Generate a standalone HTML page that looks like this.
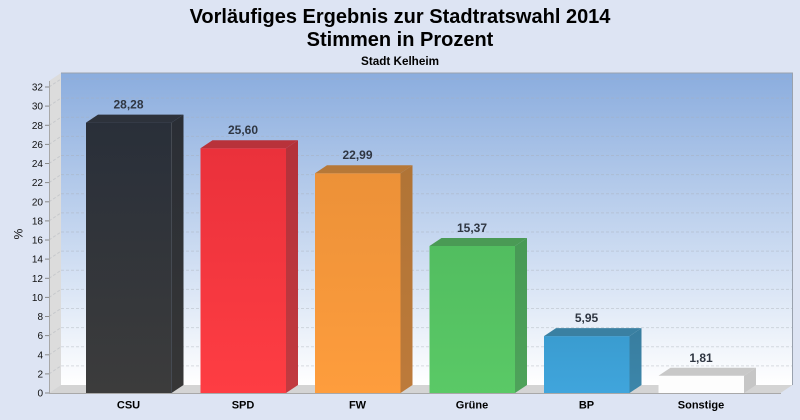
<!DOCTYPE html>
<html><head><meta charset="utf-8"><style>
html,body{margin:0;padding:0;background:#dde4f3;}
svg{display:block;font-family:"Liberation Sans",Arial,sans-serif;}
</style></head><body>
<svg width="800" height="420" viewBox="0 0 800 420" xmlns="http://www.w3.org/2000/svg">
<defs>
<linearGradient id="wall" x1="0" y1="73" x2="0" y2="385" gradientUnits="userSpaceOnUse">
<stop offset="0" stop-color="#8badde"/><stop offset="0.5" stop-color="#c3d5ef"/><stop offset="1" stop-color="#ffffff"/></linearGradient>
<linearGradient id="gCSU" x1="0" y1="0" x2="0" y2="1"><stop offset="0" stop-color="#292f39"/><stop offset="1" stop-color="#3c3c3c"/></linearGradient>
<linearGradient id="sCSU" x1="0" y1="0" x2="0" y2="1"><stop offset="0" stop-color="#2a2e35"/><stop offset="1" stop-color="#363636"/></linearGradient>
<linearGradient id="gSPD" x1="0" y1="0" x2="0" y2="1"><stop offset="0" stop-color="#ea313b"/><stop offset="1" stop-color="#fe3d43"/></linearGradient>
<linearGradient id="sSPD" x1="0" y1="0" x2="0" y2="1"><stop offset="0" stop-color="#b3313a"/><stop offset="1" stop-color="#c23a40"/></linearGradient>
<linearGradient id="gFW" x1="0" y1="0" x2="0" y2="1"><stop offset="0" stop-color="#ec9138"/><stop offset="1" stop-color="#fe9d3d"/></linearGradient>
<linearGradient id="sFW" x1="0" y1="0" x2="0" y2="1"><stop offset="0" stop-color="#b07436"/><stop offset="1" stop-color="#bd7a3a"/></linearGradient>
<linearGradient id="gGR" x1="0" y1="0" x2="0" y2="1"><stop offset="0" stop-color="#52bd60"/><stop offset="1" stop-color="#5ac966"/></linearGradient>
<linearGradient id="sGR" x1="0" y1="0" x2="0" y2="1"><stop offset="0" stop-color="#479955"/><stop offset="1" stop-color="#4ea35a"/></linearGradient>
<linearGradient id="gBP" x1="0" y1="0" x2="0" y2="1"><stop offset="0" stop-color="#3a9cd0"/><stop offset="1" stop-color="#40a5dc"/></linearGradient>
<linearGradient id="sBP" x1="0" y1="0" x2="0" y2="1"><stop offset="0" stop-color="#387d9f"/><stop offset="1" stop-color="#3c86aa"/></linearGradient>
</defs>

<!-- titles -->
<text x="400" y="23" text-anchor="middle" font-size="20" font-weight="bold" fill="#000">Vorläufiges Ergebnis zur Stadtratswahl 2014</text>
<text x="400" y="46" text-anchor="middle" font-size="20" font-weight="bold" fill="#000">Stimmen in Prozent</text>
<text x="400" y="65" text-anchor="middle" font-size="11.7" font-weight="bold" fill="#000">Stadt Kelheim</text>

<!-- back wall -->
<rect x="61" y="73" width="731.5" height="312" fill="url(#wall)"/>
<polyline points="61,73 792.5,73 792.5,385" fill="none" stroke="#9aa2ae" stroke-width="1"/>
<!-- side wall -->
<polygon points="49,81 61,73 61,385 49,393" fill="#dcdcdc"/>
<!-- grid -->
<g stroke="#a8adb5" stroke-width="1" stroke-dasharray="3,2" fill="none" opacity="0.4">
<line x1="61" y1="365.9" x2="792" y2="365.9"/>
<line x1="61" y1="346.8" x2="792" y2="346.8"/>
<line x1="61" y1="327.6" x2="792" y2="327.6"/>
<line x1="61" y1="308.5" x2="792" y2="308.5"/>
<line x1="61" y1="289.4" x2="792" y2="289.4"/>
<line x1="61" y1="270.3" x2="792" y2="270.3"/>
<line x1="61" y1="251.1" x2="792" y2="251.1"/>
<line x1="61" y1="232" x2="792" y2="232"/>
<line x1="61" y1="212.9" x2="792" y2="212.9"/>
<line x1="61" y1="193.8" x2="792" y2="193.8"/>
<line x1="61" y1="174.6" x2="792" y2="174.6"/>
<line x1="61" y1="155.5" x2="792" y2="155.5"/>
<line x1="61" y1="136.4" x2="792" y2="136.4"/>
<line x1="61" y1="117.3" x2="792" y2="117.3"/>
<line x1="61" y1="98.1" x2="792" y2="98.1"/>
<line x1="61" y1="79" x2="792" y2="79"/>
<line x1="49" y1="373.9" x2="61" y2="365.9"/>
<line x1="49" y1="354.8" x2="61" y2="346.8"/>
<line x1="49" y1="335.6" x2="61" y2="327.6"/>
<line x1="49" y1="316.5" x2="61" y2="308.5"/>
<line x1="49" y1="297.4" x2="61" y2="289.4"/>
<line x1="49" y1="278.3" x2="61" y2="270.3"/>
<line x1="49" y1="259.1" x2="61" y2="251.1"/>
<line x1="49" y1="240" x2="61" y2="232"/>
<line x1="49" y1="220.9" x2="61" y2="212.9"/>
<line x1="49" y1="201.8" x2="61" y2="193.8"/>
<line x1="49" y1="182.6" x2="61" y2="174.6"/>
<line x1="49" y1="163.5" x2="61" y2="155.5"/>
<line x1="49" y1="144.4" x2="61" y2="136.4"/>
<line x1="49" y1="125.3" x2="61" y2="117.3"/>
<line x1="49" y1="106.1" x2="61" y2="98.1"/>
<line x1="49" y1="87" x2="61" y2="79"/>
</g>
<!-- floor -->
<polygon points="49,393 61,385 792.5,385 780.5,393" fill="#d4d4d4"/>
<line x1="49" y1="393.5" x2="781" y2="393.5" stroke="#a8a8a8" stroke-width="1"/>
<line x1="49.5" y1="81" x2="49.5" y2="393" stroke="#a8a8a8" stroke-width="1"/>

<!-- y ticks & labels -->
<g stroke="#888" stroke-width="1">
<line x1="45" y1="393" x2="49" y2="393"/><line x1="45" y1="373.9" x2="49" y2="373.9"/><line x1="45" y1="354.8" x2="49" y2="354.8"/><line x1="45" y1="335.6" x2="49" y2="335.6"/><line x1="45" y1="316.5" x2="49" y2="316.5"/><line x1="45" y1="297.4" x2="49" y2="297.4"/><line x1="45" y1="278.3" x2="49" y2="278.3"/><line x1="45" y1="259.1" x2="49" y2="259.1"/><line x1="45" y1="240" x2="49" y2="240"/><line x1="45" y1="220.9" x2="49" y2="220.9"/><line x1="45" y1="201.8" x2="49" y2="201.8"/><line x1="45" y1="182.6" x2="49" y2="182.6"/><line x1="45" y1="163.5" x2="49" y2="163.5"/><line x1="45" y1="144.4" x2="49" y2="144.4"/><line x1="45" y1="125.3" x2="49" y2="125.3"/><line x1="45" y1="106.1" x2="49" y2="106.1"/><line x1="45" y1="87" x2="49" y2="87"/>
</g>
<g font-size="10" fill="#111" text-anchor="end">
<text x="43" y="396.5">0</text><text x="43" y="377.4">2</text><text x="43" y="358.3">4</text><text x="43" y="339.1">6</text><text x="43" y="320">8</text><text x="43" y="300.9">10</text><text x="43" y="281.8">12</text><text x="43" y="262.6">14</text><text x="43" y="243.5">16</text><text x="43" y="224.4">18</text><text x="43" y="205.3">20</text><text x="43" y="186.1">22</text><text x="43" y="167">24</text><text x="43" y="147.9">26</text><text x="43" y="128.8">28</text><text x="43" y="109.6">30</text><text x="43" y="90.5">32</text>
</g>
<text x="22.5" y="234" font-size="12" fill="#111" text-anchor="middle" transform="rotate(-90 22.5 234)">%</text>

<!-- bars -->
<!-- CSU -->
<rect x="86" y="122.6" width="85.5" height="270.4" fill="url(#gCSU)"/>
<polygon points="171.5,122.6 183.5,114.6 183.5,385 171.5,393" fill="url(#sCSU)"/>
<polygon points="86,122.6 98,114.6 183.5,114.6 171.5,122.6" fill="#2d323b"/>
<line x1="171.5" y1="122.6" x2="171.5" y2="393" stroke="#454a52" stroke-width="1"/>
<!-- SPD -->
<rect x="200.5" y="148.2" width="85.5" height="244.8" fill="url(#gSPD)"/>
<polygon points="286,148.2 298,140.2 298,385 286,393" fill="url(#sSPD)"/>
<polygon points="200.5,148.2 212.5,140.2 298,140.2 286,148.2" fill="#b8323a"/>
<!-- FW -->
<rect x="315" y="173.2" width="85.5" height="219.8" fill="url(#gFW)"/>
<polygon points="400.5,173.2 412.5,165.2 412.5,385 400.5,393" fill="url(#sFW)"/>
<polygon points="315,173.2 327,165.2 412.5,165.2 400.5,173.2" fill="#b67838"/>
<!-- Grüne -->
<rect x="429.5" y="246" width="85.5" height="147" fill="url(#gGR)"/>
<polygon points="515,246 527,238 527,385 515,393" fill="url(#sGR)"/>
<polygon points="429.5,246 441.5,238 527,238 515,246" fill="#4a9a55"/>
<!-- BP -->
<rect x="544" y="336.1" width="85.5" height="56.9" fill="url(#gBP)"/>
<polygon points="629.5,336.1 641.5,328.1 641.5,385 629.5,393" fill="url(#sBP)"/>
<polygon points="544,336.1 556,328.1 641.5,328.1 629.5,336.1" fill="#3a80a2"/>
<!-- Sonstige -->
<rect x="658.5" y="375.7" width="85.5" height="17.3" fill="#fdfdfd"/>
<polygon points="744,375.7 756,367.7 756,385 744,393" fill="#c6c6c6"/>
<polygon points="658.5,375.7 670.5,367.7 756,367.7 744,375.7" fill="#c8c8c8"/>

<!-- value labels -->
<g font-size="12" font-weight="bold" fill="#2f3642" text-anchor="middle">
<text x="128.5" y="108.4">28,28</text>
<text x="243" y="134">25,60</text>
<text x="357.5" y="159">22,99</text>
<text x="472" y="232">15,37</text>
<text x="586.5" y="322">5,95</text>
<text x="701" y="362">1,81</text>
</g>

<!-- category labels -->
<g font-size="11" font-weight="bold" fill="#000" text-anchor="middle">
<text x="128.5" y="408.5">CSU</text>
<text x="243" y="408.5">SPD</text>
<text x="357.5" y="408.5">FW</text>
<text x="472" y="408.5">Grüne</text>
<text x="586.5" y="408.5">BP</text>
<text x="701" y="408.5">Sonstige</text>
</g>
</svg>
</body></html>
